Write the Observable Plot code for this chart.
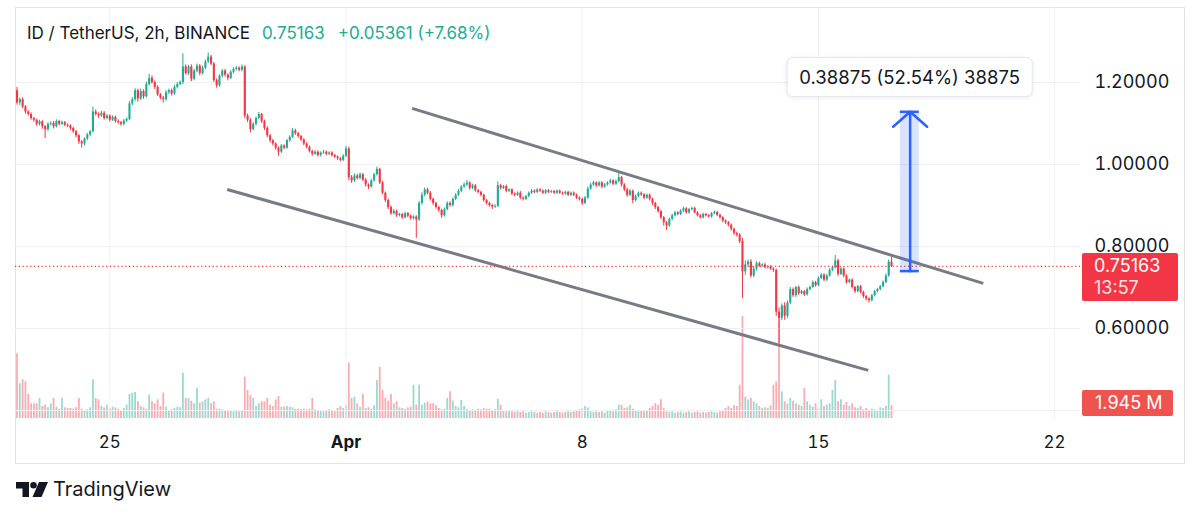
<!DOCTYPE html>
<html><head><meta charset="utf-8">
<script src="https://cdn.jsdelivr.net/npm/d3@7"></script>
<script src="https://cdn.jsdelivr.net/npm/@observablehq/plot@0.6"></script>
<style>
html,body{margin:0;padding:0;background:#fff;}
#wrap{position:relative;width:1200px;height:517px;overflow:hidden;font-family:Inter,"Noto Sans",sans-serif;color:#131722;background:#fff;}
.abs{position:absolute;}
</style></head><body>
<div id="wrap">
  <div class="abs" style="left:15px;top:7px;width:1168px;height:455px;border:1px solid #e0e3eb;"></div>
  <div class="abs" id="vol" style="left:0;top:0"></div>
  <div class="abs" id="price" style="left:0;top:0"></div>
  <div class="abs" id="header" style="left:27px;top:23px;font-size:17px;white-space:nowrap;"></div>
  <div class="abs" id="plabel" style="left:1082px;width:96px;height:48px;background:#f23645;color:#fff;border-radius:2px;font-size:18px;line-height:22px;padding:2px 0 0 12px;box-sizing:border-box;"></div>
  <div class="abs" id="vlabel" style="left:1082px;width:91px;height:26px;background:#ef5350;color:#fff;border-radius:2px;font-size:18px;line-height:26px;padding-left:13px;box-sizing:border-box;"></div>
  <div class="abs" id="mlabel" style="height:38px;line-height:38px;padding:0 12px;background:#fff;border:1px solid #e6e8ee;border-radius:6px;box-shadow:0 1px 4px rgba(0,0,0,0.08);font-size:18.5px;white-space:nowrap;transform:translateX(-50%);"></div>
  <svg class="abs" style="left:16px;top:482px" width="32" height="15" viewBox="0 0 32 15">
    <path d="M0 0h13v15h-6.5v-8.5h-6.5z" fill="#131722"/>
    <circle cx="17.5" cy="3.3" r="3.3" fill="#131722"/>
    <path d="M23 0h9l-6.5 15h-9z" fill="#131722"/>
  </svg>
  <div class="abs" style="left:53px;top:477px;font-size:20px;line-height:24px;">TradingView</div>
</div>
<script>
// ---------- data ----------
const symbolText = "ID / TetherUS, 2h, BINANCE";
const lastText = "0.75163";
const changeText = "+0.05361 (+7.68%)";
const timerText = "13:57";
const volText = "1.945 M";
const measureText = "0.38875 (52.54%) 38875";

const firstTime = Date.UTC(2024, 2, 22, 6); // first 2h candle
const firstOpen = 1180; // thousandths
// closes, thousandths, 12 candles per day
const closes = [
 1150,1158,1140,1128,1122,1112,1108,1098,1104,1092,1085,1098,
 1100,1092,1105,1098,1102,1096,1094,1088,1080,1070,1055,1050,
 1062,1072,1080,1128,1122,1118,1125,1112,1118,1108,1115,1105,
 1102,1098,1106,1110,1148,1158,1180,1160,1178,1165,1195,1210,
 1200,1188,1170,1162,1158,1175,1180,1172,1188,1195,1200,1238,
 1222,1238,1208,1228,1240,1222,1235,1250,1262,1245,1205,1192,
 1215,1228,1218,1210,1225,1232,1235,1230,1238,1118,1108,1085,
 1098,1112,1122,1105,1088,1070,1058,1050,1040,1030,1045,1040,
 1058,1066,1082,1075,1068,1060,1050,1042,1032,1025,1030,1022,
 1028,1030,1025,1028,1022,1018,1014,1010,1020,1038,968,960,
 972,966,975,962,950,945,960,975,988,955,930,912,
 895,880,886,875,878,870,880,874,868,872,865,905,
 925,938,930,915,905,895,888,875,890,905,900,915,
 925,935,945,950,955,942,948,936,932,925,912,905,
 900,896,898,948,942,946,935,938,928,925,930,918,
 915,922,930,935,932,938,935,930,936,932,934,930,
 935,930,928,932,925,930,925,918,915,905,918,940,
 950,955,948,955,945,950,955,960,952,958,968,950,
 938,925,935,912,922,930,926,918,925,915,905,895,
 885,870,858,850,866,875,882,878,886,892,882,890,
 893,882,875,870,878,875,872,880,883,876,870,862,
 858,852,842,832,828,812,738,755,762,728,745,758,
 752,755,748,750,745,742,640,625,655,630,662,695,
 680,700,685,690,682,695,700,712,705,722,730,718,
 728,742,748,765,732,745,728,712,718,700,690,702,
 688,678,672,668,680,690,695,702,712,728,762,751.63
];
// upper wick above body, thousandths
const upperWicks = [
 8,4,5,4,3,4,3,3,4,3,3,4,
 4,5,4,3,4,3,3,3,3,3,3,3,
 3,4,3,12,5,4,5,4,4,3,4,3,
 4,3,4,4,6,5,5,4,6,4,6,10,
 6,4,4,3,4,5,4,4,5,5,4,32,
 5,4,5,4,5,4,5,5,10,4,4,4,
 4,4,4,3,4,4,4,3,5,3,5,4,
 4,4,5,3,3,4,3,3,3,3,4,3,
 3,4,6,4,3,3,3,3,3,3,4,3,
 3,4,3,3,3,3,3,3,4,6,4,5,
 5,4,4,3,4,3,4,4,6,3,4,3,
 4,4,4,3,3,3,4,3,3,3,3,5,
 6,5,4,4,3,3,3,3,4,4,4,4,
 4,4,4,5,6,3,4,3,3,3,3,3,
 3,3,4,10,4,3,4,3,3,3,3,4,
 3,3,3,4,3,3,3,3,3,3,3,3,
 3,3,3,3,3,3,3,3,3,3,4,5,
 4,4,3,3,3,4,3,4,3,4,10,3,
 3,4,4,3,4,3,3,3,3,3,3,3,
 3,3,3,3,4,4,4,3,4,4,3,3,
 3,3,3,3,3,3,3,3,4,3,3,3,
 3,3,3,3,3,3,8,10,5,6,6,5,
 4,3,4,3,3,3,3,10,5,8,5,5,
 4,3,4,3,3,4,4,4,3,4,4,4,
 4,4,4,13,4,4,3,3,3,3,3,3,
 3,3,3,3,3,3,3,3,4,5,5,11
];
// lower wick below body, thousandths
const lowerWicks = [
 5,6,4,5,4,4,5,5,4,6,22,4,
 4,5,3,4,3,4,4,5,4,5,6,10,
 5,4,4,3,4,5,3,4,3,4,3,4,
 4,5,4,4,3,5,4,8,4,6,3,4,
 4,5,4,4,8,4,4,5,3,4,3,5,
 4,5,6,4,4,6,4,4,4,4,5,6,
 4,4,5,6,3,4,4,4,4,6,6,8,
 3,4,3,5,5,5,6,5,5,10,3,4,
 3,4,3,4,4,4,4,4,4,5,3,4,
 4,3,4,3,4,3,4,4,3,3,8,6,
 4,4,3,4,5,6,3,3,3,4,4,5,
 5,4,3,4,3,4,3,4,4,3,45,4,
 4,4,4,4,5,4,5,6,3,3,4,4,
 3,3,4,3,3,5,3,4,4,4,4,4,
 4,6,3,3,4,3,4,3,4,4,3,4,
 4,3,3,3,3,3,3,3,3,3,3,3,
 3,3,3,3,3,3,3,3,4,5,3,3,
 3,3,4,3,4,3,3,3,4,3,3,5,
 4,5,3,8,3,3,4,4,3,4,5,5,
 4,5,8,11,3,3,3,3,3,3,3,3,
 3,3,3,3,3,3,3,3,3,3,3,4,
 4,4,5,5,5,5,65,8,6,5,4,5,
 3,3,3,3,3,5,10,62,6,10,6,4,
 4,4,4,3,4,3,3,3,4,3,3,4,
 4,3,3,3,6,3,4,4,3,4,5,3,
 4,5,5,6,3,3,3,3,3,3,3,3
];
// volume, millions
const volumes = [
 9.7,5.2,5.8,5.5,3.6,2.2,2.2,2.2,3.0,1.8,2.0,1.6,
 2.2,3.0,1.7,1.4,3.0,1.6,1.5,1.5,1.4,1.6,3.0,1.4,
 1.2,1.3,1.6,5.8,3.0,2.8,1.8,1.6,2.0,1.5,1.7,1.6,
 1.4,1.2,1.5,2.0,3.6,3.8,3.9,2.5,1.8,1.6,1.4,3.5,
 2.5,2.2,2.8,1.8,3.8,1.7,1.2,1.3,1.5,1.7,1.6,6.8,
 3.0,3.0,2.6,2.2,4.5,2.3,2.5,2.8,3.0,2.2,2.5,1.4,
 1.4,1.3,1.2,1.0,1.2,1.0,1.1,1.0,1.2,6.2,4.2,3.4,
 3.0,1.8,2.2,2.5,2.5,3.0,2.0,1.8,2.8,3.3,1.7,1.7,
 1.8,1.7,1.6,1.4,1.4,1.3,1.4,1.3,1.4,3.0,1.3,1.1,
 1.2,1.0,1.1,1.3,1.2,1.0,1.5,1.8,1.5,2.0,8.3,3.0,
 3.2,2.2,1.7,3.6,1.5,1.6,1.4,1.9,5.7,7.7,4.2,3.0,
 2.6,3.6,2.2,2.5,1.6,1.5,1.4,1.6,1.7,5.0,2.0,5.0,
 2.0,2.3,2.5,2.2,2.2,1.9,1.5,1.3,1.4,3.0,4.0,2.6,
 1.8,1.6,2.7,1.8,1.4,1.2,1.3,1.2,1.4,1.3,1.5,1.4,
 1.4,1.2,1.3,2.9,2.0,1.2,1.0,1.1,1.0,0.9,1.0,0.9,
 1.0,0.8,0.9,1.0,0.9,0.8,0.9,0.8,1.0,0.9,0.8,0.9,
 1.0,0.9,0.8,0.9,1.0,0.9,1.0,1.2,1.3,1.5,1.8,1.6,
 1.0,0.9,1.0,0.9,1.0,0.8,1.1,1.2,1.0,1.3,2.0,2.0,
 1.5,1.6,2.0,1.4,1.2,1.0,1.1,1.0,1.2,1.5,1.8,2.2,
 2.0,2.8,1.5,1.0,0.9,1.0,0.8,0.9,1.0,0.8,0.9,1.0,
 0.8,0.9,1.0,0.8,0.9,0.8,0.9,1.0,0.9,0.8,1.0,1.2,
 1.5,1.8,1.5,1.9,1.8,5.0,15.3,3.2,2.8,3.0,2.5,2.2,
 1.8,1.5,1.6,1.5,1.9,5.0,5.5,15.3,4.0,2.5,2.2,3.0,
 2.6,2.2,2.0,1.8,4.5,2.5,2.0,1.7,2.2,1.5,2.8,1.8,
 2.0,2.2,4.2,5.7,2.5,2.8,2.0,2.4,1.8,2.2,1.6,1.5,
 1.8,1.3,1.5,1.2,1.4,1.3,1.2,1.6,1.5,1.8,6.5,1.945
];
const priceTicks = [0.6, 0.8, 1.0, 1.2];
const priceGrid = [0.4, 0.6, 0.8, 1.0, 1.2];
const timeTicks = ["2024-03-25", "2024-04-01", "2024-04-08", "2024-04-15", "2024-04-22"];
const timeLabels = ["25", "Apr", "8", "15", "22"];
// trend channel
const channelStart = ["2024-04-02T23:00Z", "2024-03-28T11:30Z"];
const channelStartPrice = [1.137, 0.939];
const channelEnd = ["2024-04-19T21:15Z", "2024-04-16T11:30Z"];
const channelEndPrice = [0.710, 0.498];
// price range measurement
const measureTimes = ["2024-04-17T10:15Z", "2024-04-17T17:15Z", "2024-04-17T23:45Z"];
const measurePrices = [0.73990, 1.12865];

// ---------- build ----------
const UP = "#22ab94", DOWN = "#f23645";
const H2 = 2 * 3600 * 1000;
let prev = firstOpen;
const candles = closes.map((c, i) => {
  const o = prev; prev = c;
  return {
    date: new Date(firstTime + i * H2),
    open: o / 1000, close: c / 1000,
    high: (Math.max(o, c) + upperWicks[i]) / 1000,
    low: (Math.min(o, c) - lowerWicks[i]) / 1000,
    vol: volumes[i],
    color: c >= o ? UP : DOWN,
    vcolor: c >= o ? "rgba(34,171,148,0.45)" : "rgba(242,54,69,0.42)"
  };
});
const last = candles[candles.length - 1];
const ticks = timeTicks.map(d => new Date(d));
const labelOf = new Map(ticks.map((d, i) => [+d, timeLabels[i]]));
const channel = channelStart.map((d, i) => ({
  x1: new Date(d), y1: channelStartPrice[i], x2: new Date(channelEnd[i]), y2: channelEndPrice[i]
}));
const measure = [{
  t1: new Date(measureTimes[0]), tm: new Date(measureTimes[1]), t2: new Date(measureTimes[2]),
  p1: measurePrices[0], p2: measurePrices[1]
}];

const xScale = {type: "utc", domain: [new Date("2024-04-01"), new Date("2024-04-08")], range: [345.5, 581.7], label: null};
const FONT = "Inter, 'Noto Sans', sans-serif";
const common = {width: 1200, height: 465, marginLeft: 15, marginRight: 120, marginTop: 7, marginBottom: 45,
  style: {background: "transparent", overflow: "visible", fontFamily: FONT, color: "#131722"}};

const volChart = Plot.plot({
  ...common,
  x: {...xScale, axis: null},
  y: {domain: [0, 15], range: [418, 318], axis: null},
  marks: [
    Plot.ruleX(candles, {x: "date", y1: 0, y2: "vol", stroke: "vcolor", strokeWidth: 1.8})
  ]
});
document.getElementById("vol").appendChild(volChart);

const notApr = ticks.filter(d => labelOf.get(+d) !== "Apr");
const apr = ticks.filter(d => labelOf.get(+d) === "Apr");
const chart = Plot.plot({
  ...common,
  x: xScale,
  y: {domain: [0.6, 1.2], range: [328, 82], label: null},
  marks: [
    Plot.gridY(priceGrid, {stroke: "#eef0f5", strokeOpacity: 1}),
    Plot.gridX(ticks, {stroke: "#eef0f5", strokeOpacity: 1}),
    Plot.axisY(priceTicks, {anchor: "right", tickSize: 0, tickPadding: 14, fontSize: 18, tickFormat: d3.format(".5f"), label: null}),
    Plot.axisX(notApr, {anchor: "bottom", tickSize: 0, tickPadding: 15, fontSize: 17, tickFormat: d => labelOf.get(+d), label: null}),
    Plot.axisX(apr, {anchor: "bottom", tickSize: 0, tickPadding: 15, fontSize: 17, fontWeight: "bold", tickFormat: d => labelOf.get(+d), label: null}),
    Plot.ruleX(candles, {x: "date", y1: "low", y2: "high", stroke: "color", strokeWidth: 1}),
    Plot.ruleX(candles, {x: "date", y1: "open", y2: "close", stroke: "color", strokeWidth: 2.1}),
    Plot.link(channel, {x1: "x1", y1: "y1", x2: "x2", y2: "y2", stroke: "#787b86", strokeWidth: 3}),
    Plot.ruleY([last.close], {stroke: DOWN, strokeWidth: 1.2, strokeDasharray: "1.2,2.6"}),
    Plot.rect(measure, {x1: "t1", x2: "t2", y1: "p1", y2: "p2", fill: "#2962ff", fillOpacity: 0.18}),
    Plot.ruleY(measure, {y: "p1", x1: "t1", x2: "t2", stroke: "#2962ff", strokeWidth: 2.5}),
    Plot.ruleY(measure, {y: "p2", x1: "t1", x2: "t2", stroke: "#2962ff", strokeWidth: 2.5}),
    Plot.arrow(measure, {x1: "tm", y1: "p1", x2: "tm", y2: "p2", stroke: "#2962ff", strokeWidth: 2.5, headLength: 13.6, headAngle: 97})
  ]
});
document.getElementById("price").appendChild(chart);
d3.select(chart).selectAll("text").filter(function(){ return this.textContent === "Apr"; }).attr("font-weight", "bold");

const ys = chart.scale("y"), xs = chart.scale("x"), vs = volChart.scale("y");
document.getElementById("header").innerHTML =
  symbolText + '<span style="color:' + UP + ';margin-left:12px">' + lastText + '</span>' +
  '<span style="color:' + UP + ';margin-left:13px">' + changeText + '</span>';
const pl = document.getElementById("plabel");
pl.style.top = (ys.apply(last.close) - 13) + "px";
pl.innerHTML = lastText + '<br><span style="opacity:0.85">' + timerText + '</span>';
const vl = document.getElementById("vlabel");
vl.style.top = (vs.apply(last.vol) - 15) + "px";
vl.textContent = volText;
const ml = document.getElementById("mlabel");
ml.style.left = xs.apply(measure[0].tm) + "px";
ml.style.top = (ys.apply(measure[0].p2) - 54) + "px";
ml.textContent = measureText;
</script>
</body></html>
